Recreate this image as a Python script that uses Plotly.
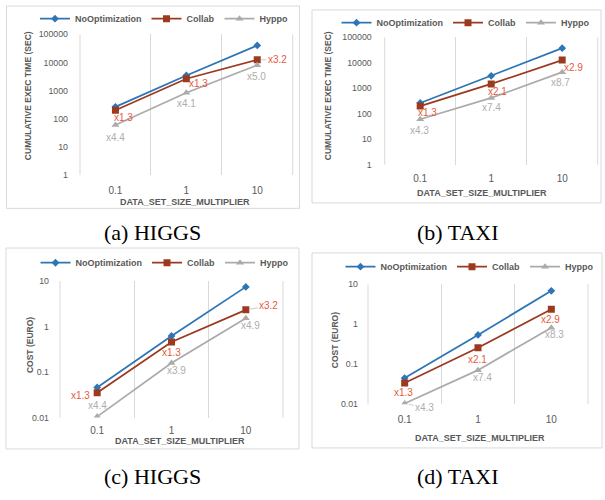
import numpy as np
import plotly.graph_objects as go

# ---------------- data ----------------
categories = ["0.1", "1", "10"]
series_names = ["NoOptimization", "Collab", "Hyppo"]

higgs_time_noopt = [265, 3470, 40400]
higgs_time_collab = [200, 2650, 12600]
higgs_time_hyppo = [60, 845, 8080]
higgs_time_collab_labels = ["x1.3", "x1.3", "x3.2"]
higgs_time_hyppo_labels = ["x4.4", "x4.1", "x5.0"]

taxi_time_noopt = [265, 3100, 37500]
taxi_time_collab = [200, 1480, 12800]
taxi_time_hyppo = [61, 420, 4300]
taxi_time_collab_labels = ["x1.3", "x2.1", "x2.9"]
taxi_time_hyppo_labels = ["x4.3", "x7.4", "x8.7"]

higgs_cost_noopt = [0.046, 0.62, 7.45]
higgs_cost_collab = [0.035, 0.46, 2.33]
higgs_cost_hyppo = [0.0105, 0.158, 1.52]
higgs_cost_collab_labels = ["x1.3", "x1.3", "x3.2"]
higgs_cost_hyppo_labels = ["x4.4", "x3.9", "x4.9"]

taxi_cost_noopt = [0.045, 0.54, 6.87]
taxi_cost_collab = [0.034, 0.257, 2.36]
taxi_cost_hyppo = [0.0104, 0.071, 0.82]
taxi_cost_collab_labels = ["x1.3", "x2.1", "x2.9"]
taxi_cost_hyppo_labels = ["x4.3", "x7.4", "x8.3"]

time_tick_vals = [1, 10, 100, 1000, 10000, 100000]
time_tick_text = ["1", "10", "100", "1000", "10000", "100000"]
cost_tick_vals = [0.01, 0.1, 1, 10]
cost_tick_text = ["0.01", "0.1", "1", "10"]

x_title = "DATA_SET_SIZE_MULTIPLIER"
time_title = "CUMULATIVE EXEC TIME (SEC)"
cost_title = "COST (EURO)"
captions = ["(a) HIGGS", "(b) TAXI", "(c) HIGGS", "(d) TAXI"]

# ---------------- style / layout ----------------
W, H = 605, 500
def px(x): return x / W
def py(y): return 1 - y / H

C_BLUE = "#2E75B6"
C_RED = "#9C3A20"
C_GRAY = "#ABABAB"
C_LAB_RED = "#E65A3C"
C_LAB_GRAY = "#ADADAD"
C_TEXT = "#595959"
C_GRID = "#D9D9D9"
FONT = "Liberation Sans"

panels = [
    dict(data=(higgs_time_noopt, higgs_time_collab, higgs_time_hyppo),
         labels=(higgs_time_collab_labels, higgs_time_hyppo_labels),
         tv=time_tick_vals, tt=time_tick_text, yr=[0, 5], ytitle=time_title,
         plot=(80, 292.7, 30, 173.5), box=(6.5, 299.5, 1, 207.5), leg=(164.5, 14),
         ytp=(28, 93), xtp=(185, 201.5), cap=(152, 232), ystand=11, xstand=8,
         coff=[(8, 7, False), (12, 5, False), (20, 0, True)],
         hoff=[(0, 12, False), (0, 11, False), (-1, 11, False)]),
    dict(data=(taxi_time_noopt, taxi_time_collab, taxi_time_hyppo),
         labels=(taxi_time_collab_labels, taxi_time_hyppo_labels),
         tv=time_tick_vals, tt=time_tick_text, yr=[0, 5], ytitle=time_title,
         plot=(384.7, 597.7, 33, 163), box=(312, 601, 5, 202), leg=(466, 18),
         ytp=(328, 92), xtp=(482, 191.5), cap=(458, 232), ystand=12, xstand=6,
         coff=[(7, 6, False), (6, 8, False), (11, 7, False)],
         hoff=[(-1, 11, False), (0, 10, False), (-2, 10, False)]),
    dict(data=(higgs_cost_noopt, higgs_cost_collab, higgs_cost_hyppo),
         labels=(higgs_cost_collab_labels, higgs_cost_hyppo_labels),
         tv=cost_tick_vals, tt=cost_tick_text, yr=[-2, 1], ytitle=cost_title,
         plot=(60, 283, 281.7, 421), box=(6, 299, 248, 453), leg=(165, 263),
         ytp=(30, 347), xtp=(180, 445), cap=(152, 481), ystand=10, xstand=5,
         coff=[(-17, 3, False), (0, 11, False), (23, -4, True)],
         hoff=[(0, -11, False), (5, 7, False), (5, 7, False)]),
    dict(data=(taxi_cost_noopt, taxi_cost_collab, taxi_cost_hyppo),
         labels=(taxi_cost_collab_labels, taxi_cost_hyppo_labels),
         tv=cost_tick_vals, tt=cost_tick_text, yr=[-2, 1], ytitle=cost_title,
         plot=(368, 588, 285, 407.3), box=(312, 602, 253, 452), leg=(470, 267),
         ytp=(335, 342), xtp=(480, 441.7), cap=(458, 481), ystand=9, xstand=8,
         coff=[(-1, 10, False), (0, 12, False), (-1, 10, False)],
         hoff=[(20, 4, True), (5, 7, False), (3, 7, False)]),
]

series_style = [
    dict(color=C_BLUE, symbol="diamond", size=6),
    dict(color=C_RED, symbol="square", size=7),
    dict(color=C_GRAY, symbol="triangle-up", size=7),
]

fig = go.Figure()
layout = dict(width=W, height=H, margin=dict(l=0, r=0, t=0, b=0),
              paper_bgcolor="white", plot_bgcolor="white", showlegend=True)
shapes, annotations = [], []

for i, p in enumerate(panels):
    n = "" if i == 0 else str(i + 1)
    xa, ya = "x" + n, "y" + n
    leg = "legend" + n
    x0, x1, y0, y1 = p["plot"]
    for s, (vals, name) in enumerate(zip(p["data"], series_names)):
        st = series_style[s]
        fig.add_trace(go.Scatter(
            x=categories, y=vals, name=name, mode="lines+markers",
            line=dict(color=st["color"], width=1.75),
            marker=dict(color=st["color"], symbol=st["symbol"], size=st["size"]),
            xaxis=xa, yaxis=ya, legend=leg, hoverinfo="skip"))
    layout["xaxis" + n] = dict(
        domain=[px(x0), px(x1)], anchor=ya, type="category",
        categoryorder="array", categoryarray=categories, range=[-0.5, 2.5],
        tickson="boundaries", showgrid=True, gridcolor=C_GRID, gridwidth=1,
        showline=False, zeroline=False, ticks="", ticklabelstandoff=p["xstand"],
        tickfont=dict(family=FONT, size=10, color=C_TEXT))
    layout["yaxis" + n] = dict(
        domain=[py(y1), py(y0)], anchor=xa, type="log", range=p["yr"],
        tickvals=p["tv"], ticktext=p["tt"], showgrid=False, showline=False,
        zeroline=False, ticks="", ticklabelstandoff=p["ystand"],
        tickfont=dict(family=FONT, size=8.8, color=C_TEXT))
    layout[leg] = dict(
        orientation="h", x=px(p["leg"][0]), y=py(p["leg"][1]),
        xanchor="center", yanchor="middle", bgcolor="rgba(0,0,0,0)",
        font=dict(family=FONT, size=9, color=C_TEXT, weight="bold"),
        itemwidth=30, tracegroupgap=0)
    # horizontal category-axis line at y = 1
    shapes.append(dict(type="line", xref=xa + " domain", yref=ya, x0=0, x1=1,
                       y0=0, y1=0, line=dict(color=C_GRID, width=1)))
    # outer vertical gridlines at the plot-area edges
    for ex in (0, 1):
        shapes.append(dict(type="line", xref=xa + " domain", yref=ya + " domain",
                           x0=ex, x1=ex, y0=0, y1=1, line=dict(color=C_GRID, width=1),
                           layer="below"))
    # panel border
    bx0, bx1, by0, by1 = p["box"]
    shapes.append(dict(type="rect", xref="paper", yref="paper",
                       x0=px(bx0), x1=px(bx1), y0=py(by1), y1=py(by0),
                       line=dict(color="#D9D9D9", width=1), fillcolor="rgba(0,0,0,0)",
                       layer="below"))
    # axis titles
    annotations.append(dict(xref="paper", yref="paper", x=px(p["ytp"][0]), y=py(p["ytp"][1]),
                            text=p["ytitle"], textangle=-90, showarrow=False,
                            xanchor="center", yanchor="middle",
                            font=dict(family=FONT, size=8.5, color=C_TEXT, weight="bold")))
    annotations.append(dict(xref="paper", yref="paper", x=px(p["xtp"][0]), y=py(p["xtp"][1]),
                            text=x_title, showarrow=False, xanchor="center", yanchor="middle",
                            font=dict(family=FONT, size=9, color=C_TEXT, weight="bold")))
    # caption
    annotations.append(dict(xref="paper", yref="paper", x=px(p["cap"][0]), y=py(p["cap"][1]),
                            text=captions[i], showarrow=False, xanchor="center", yanchor="middle",
                            font=dict(family="Liberation Serif", size=22, color="black")))
    # ratio labels (category axes: annotation x given as the category index)
    for vals, labs, offs, col in ((p["data"][1], p["labels"][0], p["coff"], C_LAB_RED),
                                  (p["data"][2], p["labels"][1], p["hoff"], C_LAB_GRAY)):
        for k in range(len(categories)):
            dx, dy, leader = offs[k]
            a = dict(xref=xa, yref=ya, x=k, y=float(np.log10(vals[k])),
                     text=labs[k], font=dict(family=FONT, size=10, color=col))
            if leader:
                a.update(showarrow=True, arrowhead=0, arrowwidth=0.8,
                         arrowcolor="#BFBFBF", ax=dx, ay=dy, standoff=4)
            else:
                a.update(showarrow=False, xshift=dx, yshift=-dy,
                         xanchor="center", yanchor="middle")
            annotations.append(a)

layout["shapes"] = shapes
layout["annotations"] = annotations
fig.update_layout(**layout)
fig.write_html("out.html", config={"displayModeBar": False},
               post_script="document.body.style.margin='0';document.body.style.padding='0';")
